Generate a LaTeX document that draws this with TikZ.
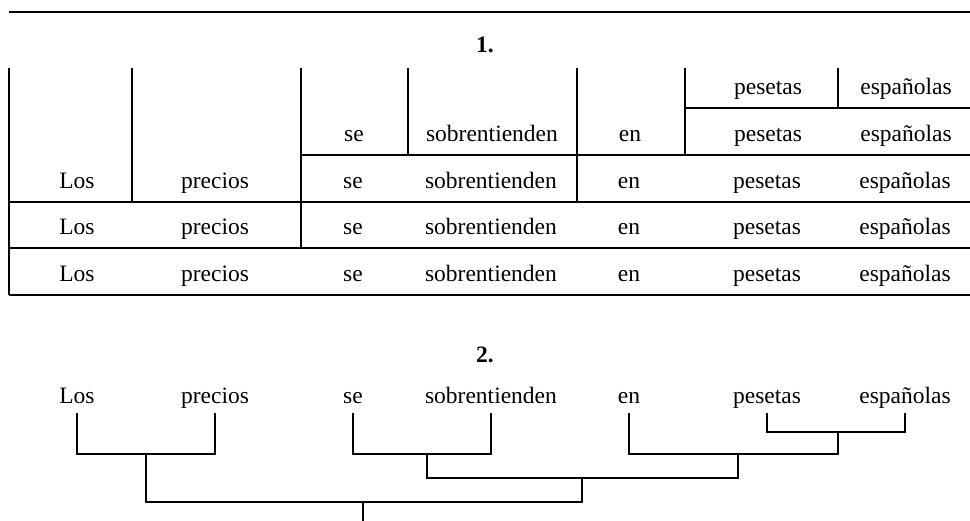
\documentclass[tikz,border=0pt]{standalone}
\usepackage{fontspec}
\setmainfont{Liberation Serif}
\usetikzlibrary{positioning}

\begin{document}
\begin{tikzpicture}[x=1pt, y=-1pt, node distance=138pt, line width=1.2pt,
    word/.style={text height=16pt, text depth=5pt, inner sep=2pt, outer sep=2pt,
                 font=\fontsize{23.5}{28}\selectfont},
    title/.style={anchor=base, font=\fontsize{23.5}{28}\selectfont\bfseries}]
    \useasboundingbox (0,0) rectangle (970,521);

    %define the headings
    \draw[line width=2.4pt] (9,12) -- (970,12);
    \node[title] (one) at (485,53) {1.};
    \node[title] (two) at (485,363) {2.};

    %define the boxes of the first analysis
    \draw (9,68) -- (9,295);
    \draw (132,68) -- (132,202);
    \draw (301,68) -- (301,248);
    \draw (408,68) -- (408,155);
    \draw (577,68) -- (577,202);
    \draw (685,68) -- (685,155);
    \draw (838,68) -- (838,108);
    \draw (685,108) -- (970,108);
    \draw (301,155) -- (970,155);
    \draw (9,202) -- (970,202);
    \draw (9,248) -- (970,248);
    \draw (9,295) -- (970,295);

    %define the words in the boxes
    \node[word] (pes1) at (768,89.5) {pesetas};
    \node[word] (esp1) [right of=pes1] {españolas};

    \node[word] (se2) at (354,136.5) {se};
    \node[word] (sob2) [right of=se2] {sobrentienden};
    \node[word] (en2)  [right of=sob2] {en};
    \node[word] (pes2) [right of=en2] {pesetas};
    \node[word] (esp2) [right of=pes2] {españolas};

    \node[word] (los3) at (77,183.5) {Los};
    \node[word] (pre3) [right of=los3] {precios};
    \node[word] (se3)  [right of=pre3] {se};
    \node[word] (sob3) [right of=se3] {sobrentienden};
    \node[word] (en3)  [right of=sob3] {en};
    \node[word] (pes3) [right of=en3] {pesetas};
    \node[word] (esp3) [right of=pes3] {españolas};

    \node[word] (los4) at (77,229.5) {Los};
    \node[word] (pre4) [right of=los4] {precios};
    \node[word] (se4)  [right of=pre4] {se};
    \node[word] (sob4) [right of=se4] {sobrentienden};
    \node[word] (en4)  [right of=sob4] {en};
    \node[word] (pes4) [right of=en4] {pesetas};
    \node[word] (esp4) [right of=pes4] {españolas};

    \node[word] (los5) at (77,276.5) {Los};
    \node[word] (pre5) [right of=los5] {precios};
    \node[word] (se5)  [right of=pre5] {se};
    \node[word] (sob5) [right of=se5] {sobrentienden};
    \node[word] (en5)  [right of=sob5] {en};
    \node[word] (pes5) [right of=en5] {pesetas};
    \node[word] (esp5) [right of=pes5] {españolas};

    %define the words of the tree
    \node[word] (los) at (77,398.5) {Los};
    \node[word] (pre) [right of=los] {precios};
    \node[word] (se)  [right of=pre] {se};
    \node[word] (sob) [right of=se] {sobrentienden};
    \node[word] (en)  [right of=sob] {en};
    \node[word] (pes) [right of=en] {pesetas};
    \node[word] (esp) [right of=pes] {españolas};

    %define the joints
    \coordinate (jA) at (146,454);
    \coordinate (jB) at (427,454);
    \coordinate (jC) at (838,432);
    \coordinate (jD) at (738,454);
    \coordinate (jE) at (582,478);
    \coordinate (jF) at (363,502);
    \coordinate (root) at (363,521);

    %define the links
    \draw (los.south) |- (jA) -| (pre.south);
    \draw (se.south)  |- (jB) -| (sob.south);
    \draw (pes.south) |- (jC) -| (esp.south);
    \draw (en.south)  |- (jD) -| (jC);
    \draw (jB) |- (jE) -| (jD);
    \draw (jA) |- (jF) -| (jE);
    \draw (jF) -- (root);
\end{tikzpicture}
\end{document}
